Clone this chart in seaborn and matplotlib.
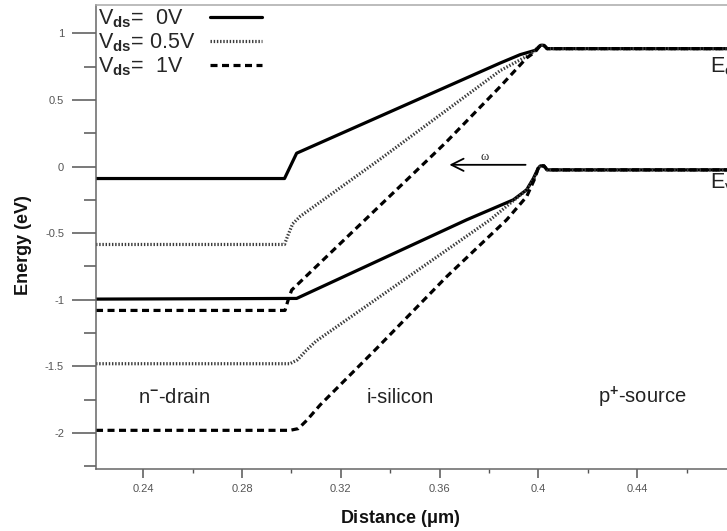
import numpy as np
import pandas as pd
import matplotlib
matplotlib.use("Agg")
import matplotlib.pyplot as plt
from matplotlib.lines import Line2D
from matplotlib.ticker import MultipleLocator
import seaborn as sns

# ---- band-edge profiles along the device (distance in um, energy in eV) ----
# conduction band edge, Vds = 0 V
ec_0v_x = [0.2209, 0.2972, 0.3021, 0.3845, 0.3926, 0.3986, 0.4008, 0.4022, 0.4035, 0.4763]
ec_0v_y = [-0.09, -0.09, 0.10, 0.777, 0.84, 0.872, 0.91, 0.91, 0.885, 0.885]
# conduction band edge, Vds = 0.5 V
ec_05v_x = [0.2209, 0.2972, 0.2985, 0.3005, 0.3034, 0.3355, 0.3845, 0.3952, 0.3986, 0.4008, 0.4022, 0.4035, 0.4763]
ec_05v_y = [-0.585, -0.585, -0.52, -0.43, -0.376, 0.05, 0.72, 0.827, 0.87, 0.91, 0.91, 0.885, 0.885]
# conduction band edge, Vds = 1 V
ec_1v_x = [0.2209, 0.2974, 0.2987, 0.3001, 0.3622, 0.3845, 0.3952, 0.3986, 0.4008, 0.4022, 0.4035, 0.4763]
ec_1v_y = [-1.08, -1.08, -1.0, -0.927, 0.175, 0.60, 0.815, 0.86, 0.91, 0.91, 0.885, 0.885]

# valence band edge, Vds = 0 V
ev_0v_x = [0.2209, 0.3021, 0.3709, 0.3898, 0.3952, 0.3979, 0.3999, 0.4008, 0.4022, 0.4035, 0.4763]
ev_0v_y = [-0.995, -0.99, -0.40, -0.25, -0.175, -0.09, -0.012, 0.005, 0.005, -0.025, -0.025]
# valence band edge, Vds = 0.5 V
ev_05v_x = [0.2209, 0.2994, 0.3025, 0.3060, 0.3100, 0.3804, 0.3952, 0.3985, 0.3999, 0.4008, 0.4022, 0.4035, 0.4763]
ev_05v_y = [-1.48, -1.48, -1.45, -1.38, -1.31, -0.40, -0.175, -0.08, -0.012, 0.005, 0.005, -0.025, -0.025]
# valence band edge, Vds = 1 V
ev_1v_x = [0.2209, 0.2994, 0.3028, 0.3062, 0.3116, 0.3345, 0.3628, 0.3871, 0.3952, 0.3985, 0.3999, 0.4008, 0.4022, 0.4035, 0.4763]
ev_1v_y = [-1.98, -1.98, -1.967, -1.905, -1.79, -1.365, -0.827, -0.40, -0.226, -0.09, -0.012, 0.005, 0.005, -0.025, -0.025]

bias_labels = [r"V$_\mathbf{ds}$=  0V", r"V$_\mathbf{ds}$= 0.5V", r"V$_\mathbf{ds}$=  1V"]
region_labels = [r"n$^{\mathbf{-}}$-drain", "i-silicon", r"p$^{\mathbf{+}}$-source"]
region_x = [0.2525, 0.3440, 0.4420]
x_ticks = [0.24, 0.28, 0.32, 0.36, 0.40, 0.44]
x_tick_labels = ["0.24", "0.28", "0.32", "0.36", "0.4", "0.44"]
y_ticks = [-2, -1.5, -1, -0.5, 0, 0.5, 1]
y_tick_labels = ["-2", "-1.5", "-1", "-0.5", "0", "0.5", "1"]

curves = [
    ("Ec", 0, ec_0v_x, ec_0v_y), ("Ec", 1, ec_05v_x, ec_05v_y), ("Ec", 2, ec_1v_x, ec_1v_y),
    ("Ev", 0, ev_0v_x, ev_0v_y), ("Ev", 1, ev_05v_x, ev_05v_y), ("Ev", 2, ev_1v_x, ev_1v_y),
]
frames = []
for band, b, xs, ys in curves:
    frames.append(pd.DataFrame({"distance": xs, "energy": ys, "band": band, "bias": b,
                                "order": np.arange(len(xs))}))
df = pd.concat(frames, ignore_index=True)

sns.set_theme(style="white")
plt.rcParams["font.family"] = ["Liberation Sans", "DejaVu Sans"]
plt.rcParams["mathtext.fontset"] = "custom"
plt.rcParams["mathtext.rm"] = "Liberation Sans"
plt.rcParams["mathtext.it"] = "Liberation Sans"
plt.rcParams["mathtext.bf"] = "Liberation Sans:bold"

styles = {
    0: dict(color="black", lw=2.3, linestyle="-"),
    1: dict(color="#3c3c3c", lw=2.3, linestyle=(0, (0.45, 0.55))),
    2: dict(color="black", lw=2.3, linestyle=(0, (2.2, 1.4))),
}

fig = plt.figure(figsize=(7.27, 5.31), dpi=100)
ax = fig.add_axes([96 / 727, 1 - 469.3 / 531, 1 - 96 / 727, (469.3 - 5) / 531])

for (band, b), sub in df.groupby(["band", "bias"], sort=False):
    sub = sub.sort_values("order")
    st = styles[b]
    sns.lineplot(data=sub, x="distance", y="energy", sort=False, estimator=None,
                 color=st["color"], lw=st["lw"], linestyle=st["linestyle"], ax=ax,
                 legend=False)

ax.set_xlim(0.2209, 0.4763)
ax.set_ylim(-2.2725, 1.2125)

ax.set_xticks(x_ticks)
ax.set_xticklabels(x_tick_labels)
ax.set_yticks(y_ticks)
ax.set_yticklabels(y_tick_labels)
ax.xaxis.set_minor_locator(MultipleLocator(0.02))
ax.yaxis.set_minor_locator(MultipleLocator(0.25))

ax.tick_params(axis="y", which="major", direction="out", length=17, width=1.1,
               color="#555555", labelcolor="#555555", labelsize=8, pad=6, left=True)
ax.tick_params(axis="y", which="minor", direction="out", length=8.5, width=1.1,
               color="#555555", left=True)
ax.tick_params(axis="x", which="major", direction="out", length=6.5, width=1.1,
               color="#555555", labelcolor="#555555", labelsize=8, pad=4, bottom=True)
ax.tick_params(axis="x", which="minor", direction="out", length=3.2, width=1.0,
               color="#555555", bottom=True)

for side in ["left", "bottom"]:
    ax.spines[side].set_color("#666666")
    ax.spines[side].set_linewidth(1.1)
ax.spines["top"].set_color("#aaaaaa")
ax.spines["top"].set_linewidth(1.1)
ax.spines["right"].set_visible(False)

ax.set_xlabel(r"Distance ($\mathbf{\mu}$m)", fontsize=13, fontweight="bold", color="#111111")
ax.set_ylabel("Energy (eV)", fontsize=13, fontweight="bold", color="#111111")
ax.xaxis.set_label_coords(0.482, -0.083)
ax.yaxis.set_label_coords(-0.101, 0.483)

# legend: left-aligned labels, with the line samples in a column to their right
leg_kw = dict(loc="upper left", frameon=False, fontsize=15.5, labelspacing=0.08,
              borderaxespad=0.0, borderpad=0.1)
blank = [Line2D([], [], color="none") for _ in range(3)]
text_leg = ax.legend(blank, bias_labels, bbox_to_anchor=(0.0, 1.0),
                     handlelength=0, handletextpad=0, **leg_kw)
ax.add_artist(text_leg)
handles = [Line2D([], [], **styles[b]) for b in range(3)]
line_leg = ax.legend(handles, bias_labels, bbox_to_anchor=((210 - 96 - 2) / 631, 1.0),
                     handlelength=2.4, handletextpad=0.0, **leg_kw)
for t in line_leg.get_texts():
    t.set_alpha(0.0)

for lab, xr in zip(region_labels, region_x):
    ax.text(xr, -1.73, lab, ha="center", va="center", fontsize=14.5, color="#222222")

ax.text(0.4694, 0.75, r"E$_c$", ha="left", va="center", fontsize=15.5, color="#222222")
ax.text(0.4694, -0.125, r"E$_v$", ha="left", va="center", fontsize=15.5, color="#222222")

ax.annotate("", xy=(0.3628, 0.013), xytext=(0.3959, 0.013),
            arrowprops=dict(arrowstyle="->", lw=1.3, color="black", mutation_scale=22))
ax.text(0.3783, 0.07, "ω", ha="center", va="center", fontsize=9,
        family=["Liberation Serif", "DejaVu Serif"], color="#222222")

fig.savefig("out.png", dpi=100)
